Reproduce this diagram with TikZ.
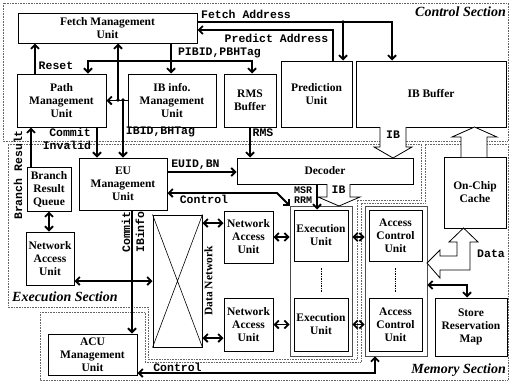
\documentclass[tikz,border=0pt]{standalone}
\usepackage{fontspec}
\setmainfont{Liberation Serif}
\setmonofont{Liberation Mono}
\usetikzlibrary{arrows.meta}

\begin{document}
\begin{tikzpicture}[x=1pt, y=-1pt,
    unit/.style={draw, line width=1pt, align=center, inner sep=0pt,
      font=\fontsize{11.5}{13}\selectfont\bfseries},
    frame/.style={draw=black!70, line width=0.8pt, inner sep=0pt},
    lbl/.style={inner sep=0pt, font=\fontsize{11.5}{12}\selectfont\ttfamily\bfseries},
    sec/.style={inner sep=0pt, font=\fontsize{14}{16}\selectfont\bfseries\itshape},
    sig/.style={line width=1.8pt, -{Straight Barb[length=4pt,width=8pt]}},
    both/.style={sig, {Straight Barb[length=4pt,width=8pt]}-{Straight Barb[length=4pt,width=8pt]}},
    hollow/.style={draw, fill=white, line width=0.8pt},
    region/.style={draw=black!60, densely dotted, line width=0.6pt},
    dot/.style={circle, fill, inner sep=1.4pt}]
  \useasboundingbox (0,0) rectangle (510,383);

  % sections
  \draw[region] (3,3) rectangle (508,141);
  \draw[region] (8,144) -- (421,144) -- (421,200) -- (357,200) -- (357,359)
    -- (148,359) -- (148,307) -- (8,307) -- cycle;
  \draw[region] (40,312) -- (145,312) -- (145,362) -- (361,362) -- (361,203)
    -- (425,203) -- (425,144) -- (508,144) -- (508,380) -- (40,380) -- cycle;
  \node[sec, anchor=east] (csec) at (506,12) {Control Section};
  \node[sec, anchor=west] (esec) at (12,297) {Execution Section};
  \node[sec, anchor=east] (msec) at (506,370) {Memory Section};

  % control section
  \node[unit, minimum width=179, minimum height=30] (fmu) at (107.5,28) {Fetch Management\\Unit};
  \node[unit, minimum width=89, minimum height=53] (pmu) at (61.5,100.5) {Path\\Management\\Unit};
  \node[unit, minimum width=88, minimum height=53] (ibm) at (172,100.5) {IB info.\\Management\\Unit};
  \node[unit, minimum width=52, minimum height=53] (rms) at (250,100.5) {RMS\\Buffer};
  \node[unit, minimum width=71, minimum height=66] (pred) at (316.5,94) {Prediction\\Unit};
  \node[unit, minimum width=150, minimum height=66] (ibb) at (431,94) {IB Buffer};

  % execution section
  \node[unit, minimum width=44, minimum height=44] (brq) at (49,189) {Branch\\Result\\Queue};
  \node[unit, minimum width=48, minimum height=53] (nau0) at (50,258.5) {Network\\Access\\Unit};
  \node[unit, minimum width=88, minimum height=52] (eum) at (123,184) {EU\\Management\\Unit};
  \node[unit, minimum width=176, minimum height=26] (dec) at (325,171) {Decoder};
  \node[unit, minimum width=49, minimum height=132] (dnet) at (177.5,281) {};
  \node[unit, minimum width=49, minimum height=52] (nau1) at (248.5,237) {Network\\Access\\Unit};
  \node[unit, minimum width=49, minimum height=53] (nau2) at (248.5,324.5) {Network\\Access\\Unit};
  \node[frame, minimum width=62, minimum height=150] (exframe) at (321,281) {};
  \node[unit, minimum width=54, minimum height=51] (exu1) at (321,235.5) {Execution\\Unit};
  \node[unit, minimum width=54, minimum height=53] (exu2) at (321,324.5) {Execution\\Unit};
  \node[font=\fontsize{11.5}{13}\selectfont\bfseries, rotate=90, inner sep=0pt] (dnlbl) at (208.5,281) {Data Network};

  % memory section
  \node[unit, minimum width=62, minimum height=71] (cache) at (475,192.5) {On-Chip\\Cache};
  \node[frame, minimum width=62, minimum height=150] (acframe) at (396,281) {};
  \node[unit, minimum width=53, minimum height=51] (acu1) at (395.5,235.5) {Access\\Control\\Unit};
  \node[unit, minimum width=53, minimum height=53] (acu2) at (395.5,324.5) {Access\\Control\\Unit};
  \node[unit, minimum width=72, minimum height=58] (srm) at (471,327) {Store\\Reservation\\Map};
  \node[unit, minimum width=89, minimum height=41] (acum) at (92.5,354.5) {ACU\\Management\\Unit};

  \draw[line width=0.6pt] (dnet.north west) -- (dnet.south east)
    (dnet.north east) -- (dnet.south west);
  \foreach \u in {exu,acu}
    \draw[line width=0.7pt, densely dotted] ([yshift=-6pt]\u1.south) -- ([yshift=6pt]\u2.north);

  % hollow arrows
  \draw[hollow] (380,127) -- (380,147) -- (374,147) -- (393,158) -- (412,147) -- (406,147) -- (406,127);
  \node[lbl] (iblbl) at (393,135) {IB};
  \draw[hollow] (461,157) -- (461,137) -- (452,137) -- (474.5,127) -- (497,137) -- (487,137) -- (487,157);
  \draw[hollow] (327,184) -- (327,197) -- (318,197) -- (339,206) -- (360,197) -- (350,197) -- (350,184);
  \node[lbl] (ibtwo) at (338.5,190) {IB};
  \draw[hollow] (470,242) -- (470,270) -- (440,270) -- (440,278) -- (427,263) -- (440,250)
    -- (440,256) -- (457,256) -- (457,242) -- (449,242) -- (463.5,228) -- (478,242) -- cycle;
  \node[lbl] (datalbl) at (491,254) {Data};

  % junctions
  \node[dot] (j1) at (343,22) {};
  \node[dot] (j2) at (171,61) {};
  \node[dot] (j3) at (118,100) {};
  \node[dot] (j4) at (123,100) {};
  \coordinate (fa) at (392,22);
  \coordinate (pa) at (333,30);
  \coordinate (pl) at (88,61);
  \coordinate (pr) at (252,61);
  \coordinate (rs) at (35,60);
  \coordinate (ci) at (97,140);
  \coordinate (br) at (31,150);
  \coordinate (eb) at (200,172);
  \coordinate (cu) at (277,193);
  \coordinate (ms) at (317,195);
  \coordinate (cb) at (132,270);
  \coordinate (nd) at (110,281);
  \coordinate (sm) at (467,285);
  \coordinate (cl) at (375,373);

  % control section signals
  \draw[sig] (fmu.east |- fa) -- (fa) -- (fa |- ibb.north);
  \draw[sig] (j1.center) -- (j1 |- pred.north);
  \draw[sig] (pa |- pred.north) -- (pa) -- (fmu.east |- pa);
  \draw[line width=1.8pt] (j2 |- fmu.south) -- (j2.center);
  \draw[sig] (j2.center) -- (j2 |- ibm.north);
  \draw[sig] (j2.center) -- (pl) -- (pl |- pmu.north);
  \draw[sig] (j2.center) -- (pr) -- (pr |- rms.north);
  \draw[sig] (rs |- pmu.north) -- (rs |- fmu.south);
  \draw[sig] (ibm.west) -- (pmu.east);
  \draw[sig] (j3.center) -- (j3 |- fmu.south);
  \draw[sig] (j4.center) -- (j4 |- eum.north);
  \draw[sig] (ci |- pmu.south) -- (ci |- eum.north);
  \draw[sig] (br |- brq.north) -- (br |- pmu.south);
  \draw[sig] (rms.south) -- (rms.south |- dec.north);
  \node[lbl] (falbl) at (246,14) {Fetch Address};
  \node[lbl] (palbl) at (276.5,38) {Predict Address};
  \node[lbl] (pblbl) at (219.5,53) {PIBID,PBHTag};
  \node[lbl] (rslbl) at (56,66) {Reset};
  \node[lbl] (cmlbl) at (70,132) {Commit};
  \node[lbl] (invlbl) at (67,145) {Invalid};
  \node[lbl] (idlbl) at (160.5,132) {IBID,BHTag};
  \node[lbl] (rmslbl) at (263,133) {RMS};
  \node[lbl, rotate=90] (brlbl) at (18,175) {Branch Result};

  % execution section signals
  \draw[both] (brq.south) -- (brq.south |- nau0.north);
  \draw[sig] (eum.east |- eb) -- (dec.west |- eb);
  \draw[both] (eum.east |- cu) -- (cu) -- (exframe.north west);
  \draw[sig] (ms |- dec.south) -- (ms |- exu1.north);
  \draw[sig] (cb |- eum.south) -- (cb |- acum.north);
  \draw[both] (nau0.east |- nd) -- (dnet.west |- nd);
  \draw[both] (dnet.east |- 0,223) -- (nau1.west |- 0,223);
  \draw[both] (dnet.east |- 0,338) -- (nau2.west |- 0,338);
  \draw[both] (nau1.east) -- (exframe.west |- nau1.east);
  \draw[both] (nau2.east) -- (exframe.west |- nau2.east);
  \draw[both] (exframe.east |- nau1.east) -- (acframe.west |- nau1.east);
  \draw[both] (exframe.east |- nau2.east) -- (acframe.west |- nau2.east);
  \node[lbl] (eblbl) at (195.5,165) {EUID,BN};
  \node[lbl] (ctlbl) at (204,199) {Control};
  \node[lbl, align=center, font=\fontsize{10}{10}\selectfont\ttfamily\bfseries] (msrlbl) at (303,195) {MSR\\RRM};
  \node[lbl, rotate=90] (cmtlbl) at (126,232) {Commit};
  \node[lbl, rotate=90] (iilbl) at (140,232) {IBinfo};

  % memory section signals
  \draw[both] (acframe.east |- sm) -- (sm) -- (sm |- srm.north);
  \draw[both] (cl |- acframe.south) -- (cl) -- (acum.east |- cl);
  \node[lbl] (cllbl) at (177.5,367) {Control};
\end{tikzpicture}
\end{document}
